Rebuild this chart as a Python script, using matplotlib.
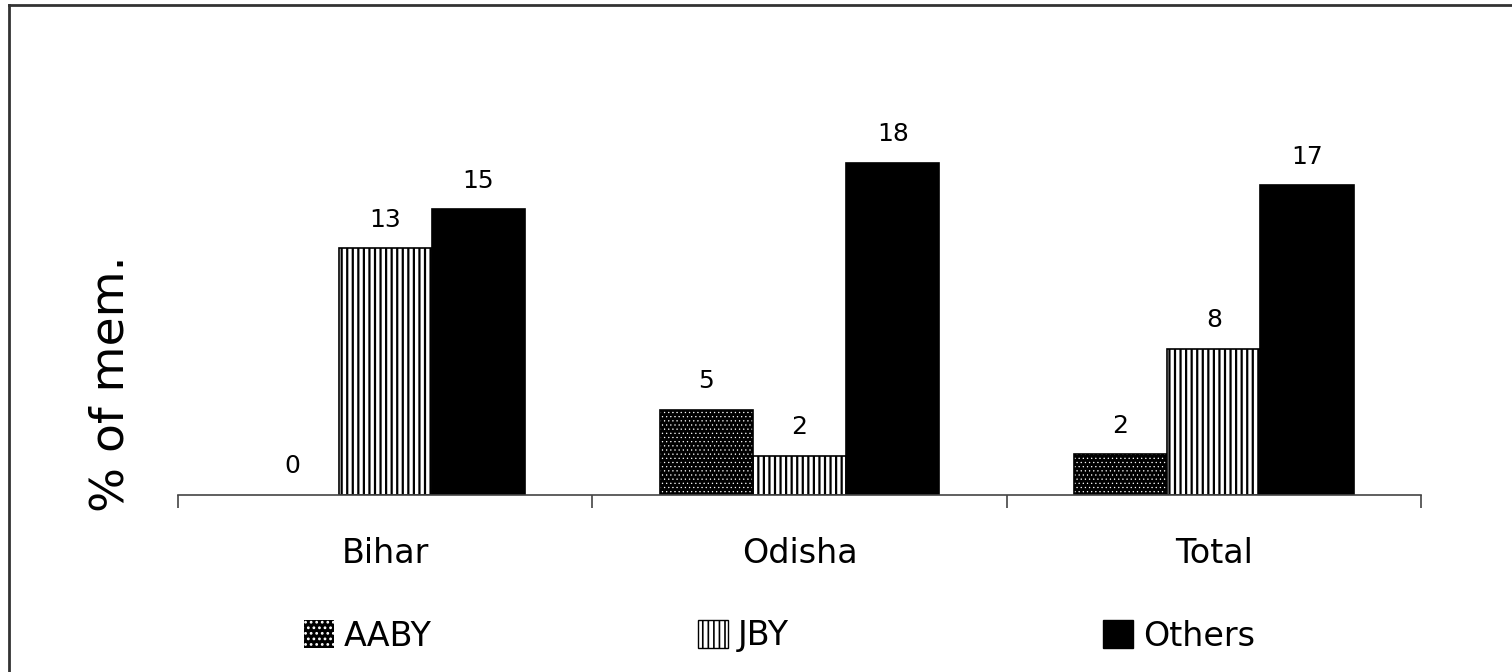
import matplotlib
matplotlib.use("Agg")
import matplotlib.pyplot as plt
from matplotlib.patches import Patch
from matplotlib.lines import Line2D
import numpy as np

# data
states = ["Bihar", "Odisha", "Total"]
series = ["AABY", "JBY", "Others"]
aaby = [0.0, 4.6, 2.2]
jby = [13.3, 2.1, 7.9]
others = [15.4, 17.9, 16.7]
labels_aaby = ["0", "5", "2"]
labels_jby = ["13", "2", "8"]
labels_others = ["15", "18", "17"]

plt.rcParams["font.family"] = ["DejaVu Sans"]

fig = plt.figure(figsize=(15.12, 6.72), dpi=100)
W, H = 1512, 672
# axes box in pixels: x 178..1421, baseline y=495, top y=50
ax = fig.add_axes([178 / W, 1 - 495 / H, (1421 - 178) / W, (495 - 50) / H])

x = np.arange(len(states))
bw = 0.225

# AABY: black with small white dots
plt.rcParams["hatch.linewidth"] = 0.4
ax.bar(x - bw, aaby, bw, color="black", edgecolor="white", hatch="....", linewidth=0)
lw = [0 if v == 0 else 1.2 for v in aaby]
ax.bar(x - bw, aaby, bw, fill=False, edgecolor="black", linewidth=lw)
# JBY: vertical stripes
plt.rcParams["hatch.linewidth"] = 1.6
ax.bar(x, jby, bw, color="white", edgecolor="black", hatch="|||", linewidth=1.2)
# Others: solid black
ax.bar(x + bw, others, bw, color="black", edgecolor="black", linewidth=1.2)

for vals, labs, off in [(aaby, labels_aaby, -bw), (jby, labels_jby, 0), (others, labels_others, bw)]:
    for xi, v, t in zip(x, vals, labs):
        ax.annotate(t, (xi + off, v), xytext=(0, 12), textcoords="offset points",
                    ha="center", va="bottom", fontsize=18)

ax.set_xlim(-0.5, 2.5)
ax.set_ylim(0, 24)
ax.set_yticks([])
for s in ["top", "right", "left"]:
    ax.spines[s].set_visible(False)
ax.spines["bottom"].set_color("#444444")
ax.spines["bottom"].set_linewidth(1.2)

ax.set_xticks(x)
ax.set_xticklabels(states, fontsize=24)
ax.tick_params(axis="x", which="major", length=0, pad=30)
ax.set_xticks([-0.5, 0.5, 1.5, 2.5], minor=True)
ax.tick_params(axis="x", which="minor", length=9, width=1.2, color="#444444")

ax.set_ylabel("% of mem.", fontsize=34)
ax.yaxis.set_label_coords(-0.036, 0.25)

# legend, one entry at a time so the spacing can follow the picture
plt.rcParams["hatch.linewidth"] = 0.4
h_aaby = Patch(facecolor="black", edgecolor="white", hatch="...", linewidth=0)
plt.rcParams["hatch.linewidth"] = 1.2
h_jby = Patch(facecolor="white", edgecolor="black", hatch="|||", linewidth=1)
h_oth = Patch(facecolor="black", edgecolor="black")
legend_x = [304, 698, 1103]
for h, name, lx in zip([h_aaby, h_jby, h_oth], series, legend_x):
    fig.legend(handles=[h], labels=[name], loc="center left",
               bbox_to_anchor=(lx / W, 1 - 636 / H), frameon=False,
               fontsize=24, handlelength=0.9, handleheight=0.9,
               handletextpad=0.3, borderpad=0, borderaxespad=0)

# outer frame (top and left only, as in the cropped reference)
fig.add_artist(Line2D([9 / W, 9 / W], [0, 1 - 5 / H], color="#333333", linewidth=2))
fig.add_artist(Line2D([9 / W, 1], [1 - 5 / H, 1 - 5 / H], color="#333333", linewidth=2))

fig.savefig("out.png", dpi=100)
